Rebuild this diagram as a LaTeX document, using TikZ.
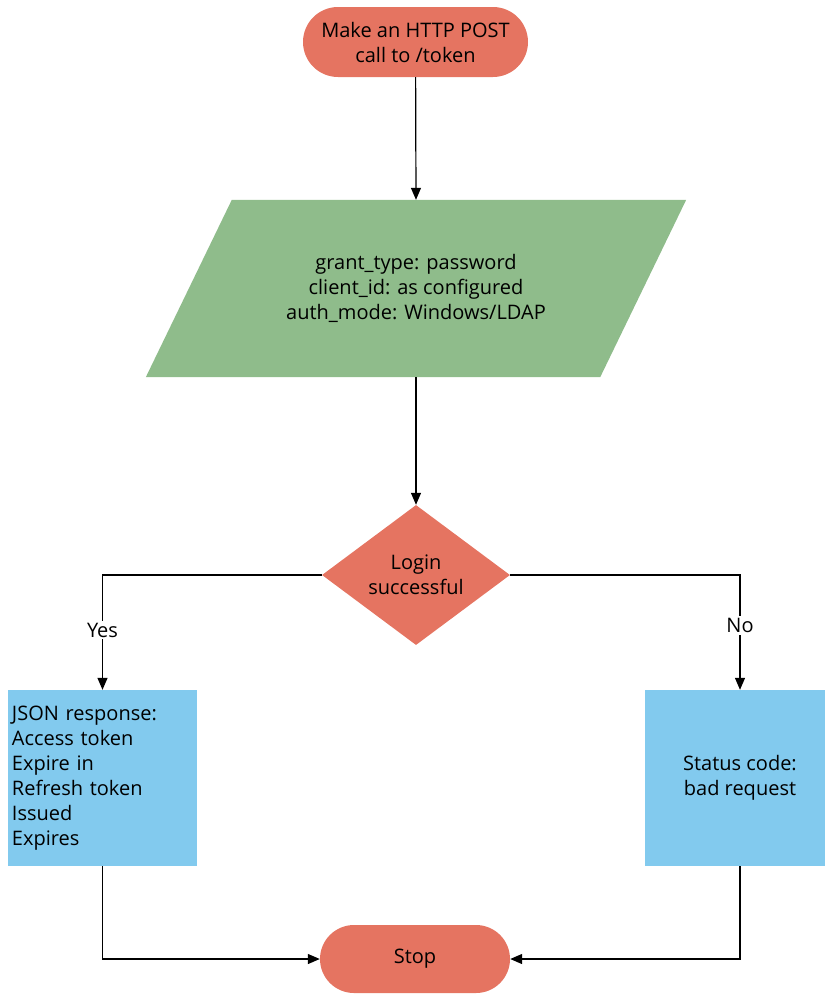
\documentclass[tikz,border=0pt]{standalone}
\usepackage{fontspec}
\setmainfont{Open Sans}
\usetikzlibrary{shapes.geometric,arrows.meta,backgrounds}
\definecolor{salmon}{RGB}{229,116,97}
\definecolor{sage}{RGB}{143,188,139}
\definecolor{sky}{RGB}{130,202,238}
\tikzset{
  base/.style={font=\fontsize{20}{25}\selectfont, inner sep=4pt},
  term/.style={base, fill=salmon, rounded corners=34pt},
  databox/.style={base, fill=none, draw=none},
  decide/.style={base, diamond, fill=salmon, inner sep=0pt, aspect=1.34, align=center},
  procbox/.style={base, fill=sky},
  arr/.style={draw=black, line width=1.2pt, -{Triangle[length=12pt,width=10pt]}},
  lbl/.style={base, fill=white, inner sep=2pt}
}
\begin{document}
\begin{tikzpicture}[x=1pt,y=-1pt]
\useasboundingbox (0,0) rectangle (825,994);
\node[term, minimum width=225pt, minimum height=70pt, align=center, rounded corners=35pt] (start) at (415.5,42) {Make an HTTP POST\\call to /token};
\node[databox, minimum width=454pt, minimum height=177pt, align=center] (para) at (416,288.5) {grant\_type: password\\client\_id: as configured\\auth\_mode: Windows/LDAP};
\begin{scope}[on background layer]
\fill[sage] ([xshift=43pt]para.north west) -- ([xshift=43pt]para.north east) -- ([xshift=-43pt]para.south east) -- ([xshift=-43pt]para.south west) -- cycle;
\end{scope}
\node[decide, minimum width=188pt, minimum height=140pt] (dia) at (416,575) {Login\\successful};
\node[procbox, minimum width=189pt, minimum height=176pt, text width=181pt, align=left] (json) at (102.5,778) {JSON response:\\Access token\\Expire in\\Refresh token\\Issued\\Expires};
\node[procbox, minimum width=190pt, minimum height=176pt, align=center] (bad) at (740,778) {Status code:\\bad request};
\node[term, minimum width=190pt, minimum height=68pt] (stop) at (415,959) {Stop};
\draw[arr] (start) -- (para.north);
\draw[arr] (para) -- (dia);
\draw[arr] (dia.west) -| node[lbl, pos=0.74] {Yes} (json.north);
\draw[arr] (dia.east) -| node[lbl, pos=0.72] {No} (bad.north);
\draw[arr] (json.south) |- (stop.west);
\draw[arr] (bad.south) |- (stop.east);
\end{tikzpicture}
\end{document}
